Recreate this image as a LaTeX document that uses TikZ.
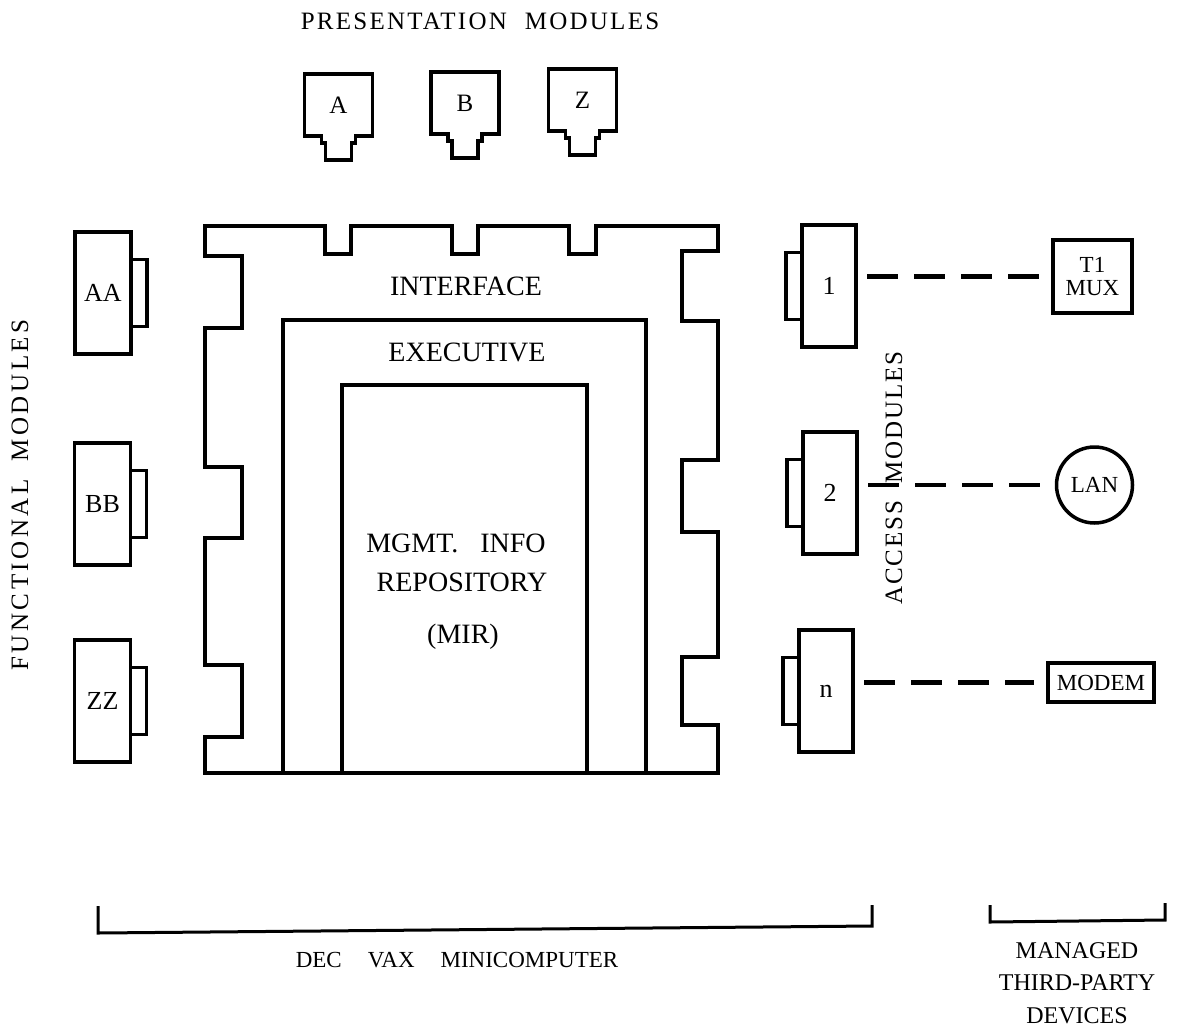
\documentclass[tikz,border=0pt]{standalone}
\usepackage{fontspec}
\setmainfont{Liberation Serif}
\usetikzlibrary{positioning}

\newcommand{\modfont}{\fontsize{26}{30}\selectfont}

\begin{document}
\begin{tikzpicture}[x=1pt, y=-1pt,
  wall/.style={line width=3.5pt},
  fmod/.style={draw, line width=3.5pt, inner sep=0pt, outer sep=0pt,
               minimum width=56pt, minimum height=122pt, font=\modfont},
  amod/.style={fmod, minimum width=54pt},
  plug/.style={draw, line width=3.5pt, inner sep=0pt, outer sep=0pt,
               minimum width=16pt, minimum height=67pt},
  pmod/.style={inner sep=0pt, outer sep=0pt, minimum width=68pt,
               minimum height=62pt, font=\fontsize{25}{28}\selectfont},
  device/.style={draw, line width=3.5pt, inner sep=0pt, outer sep=0pt,
                 align=center, font=\fontsize{23}{23}\selectfont},
  link/.style={line width=4.5pt, dash pattern=on 31pt off 16pt,
               shorten <=11pt, shorten >=14pt},
  layer/.style={font=\fontsize{28}{30}\selectfont},
  caption/.style={font=\fontsize{25}{28}\selectfont\addfontfeature{LetterSpace=#1}},
  bracket/.style={line width=3pt}
]
\useasboundingbox (0,0) rectangle (1180,1031);

% presentation modules plugged in from the top
\node[caption=9] (ptitle) at (480,21) {PRESENTATION\hspace{18pt}MODULES};
\node[pmod] (a) at (338.5,105) {A};
\node[pmod] (b) at (465,103) {B};
\node[pmod] (z) at (582.5,100) {Z};
\foreach \m in {a,b,z}
  \draw[wall] (\m.south east) -- ++(-17,0) -- ++(0,7) -- ++(-4,0) -- ++(0,17)
    -- ++(-26,0) -- ++(0,-17) -- ++(-4,0) -- ++(0,-7) -- (\m.south west)
    |- (\m.north east) -- cycle;

% interface frame with its sockets
\draw[wall] (205,226) -- (325,226) -- (325,254) -- (351,254) -- (351,226)
  -- (452,226) -- (452,254) -- (478,254) -- (478,226) -- (569,226)
  -- (569,254) -- (596,254) -- (596,226) -- (718,226) -- (718,251)
  -- (682,251) -- (682,321) -- (718,321) -- (718,460) -- (682,460)
  -- (682,532) -- (718,532) -- (718,657) -- (682,657) -- (682,725)
  -- (718,725) -- (718,773) -- (205,773) -- (205,737) -- (242,737)
  -- (242,665) -- (205,665) -- (205,538) -- (242,538) -- (242,467)
  -- (205,467) -- (205,328) -- (242,328) -- (242,256) -- (205,256) -- cycle;

% executive and repository inside
\draw[wall] (283,773) |- (646,320) -- (646,773);
\draw[wall] (342,773) |- (587,385) -- (587,773);

\node[layer] (iface) at (466,286) {INTERFACE};
\node[layer] (exec) at (467,352) {EXECUTIVE};
\node[layer] (mgmt) at (456,543) {MGMT.\hspace{22pt}INFO};
\node[layer] (repo) at (462,582) {REPOSITORY};
\node[layer] (mir) at (463,637) {(MIR)};

% functional modules on the left
\node[fmod] (aa) at (103,293) {AA};
\node[plug, right=0pt of aa] (aaplug) {};
\node[fmod] (bb) at (102.5,504) {BB};
\node[plug, right=0pt of bb] (bbplug) {};
\node[fmod] (zz) at (102.5,701) {ZZ};
\node[plug, right=0pt of zz] (zzplug) {};
\node[caption=14, rotate=90] (ftitle) at (20,495) {FUNCTIONAL\hspace{18pt}MODULES};

% access modules on the right
\node[amod] (m1) at (829,286) {1};
\node[plug, left=0pt of m1] (m1plug) {};
\node[amod] (m2) at (830,493) {2};
\node[plug, left=0pt of m2] (m2plug) {};
\node[amod] (mn) at (826,691) {n};
\node[plug, left=0pt of mn] (mnplug) {};
\node[caption=7, rotate=90] (atitle) at (894,478) {ACCESS\hspace{18pt}MODULES};

% third-party devices
\node[device, minimum width=79pt, minimum height=73pt] (t1mux) at (1092.5,276.5) {T1\\MUX};
\node[device, circle, minimum size=76pt] (lan) at (1094.5,485) {LAN};
\node[device, minimum width=106pt, minimum height=39pt] (modem) at (1101,682.5) {MODEM};

\draw[link] (t1mux.west -| m1.east) -- (t1mux.west);
\draw[link] (lan.west -| m2.east) -- (lan.west);
\draw[link] (modem.west -| mn.east) -- (modem.west);

% brackets at the bottom
\draw[bracket] (98,906) -- (98,933) -- (872,926) -- (872,905);
\draw[bracket] (990,905) -- (990,922) -- (1165,920) -- (1165,903);
\node[font=\fontsize{23}{24}\selectfont] (vax) at (457,960)
  {DEC\hspace{26pt}VAX\hspace{26pt}MINICOMPUTER};
\node[font=\fontsize{24}{32.5}\selectfont, align=center] (managed) at (1077,983)
  {MANAGED\\THIRD-PARTY\\DEVICES};

\end{tikzpicture}
\end{document}
